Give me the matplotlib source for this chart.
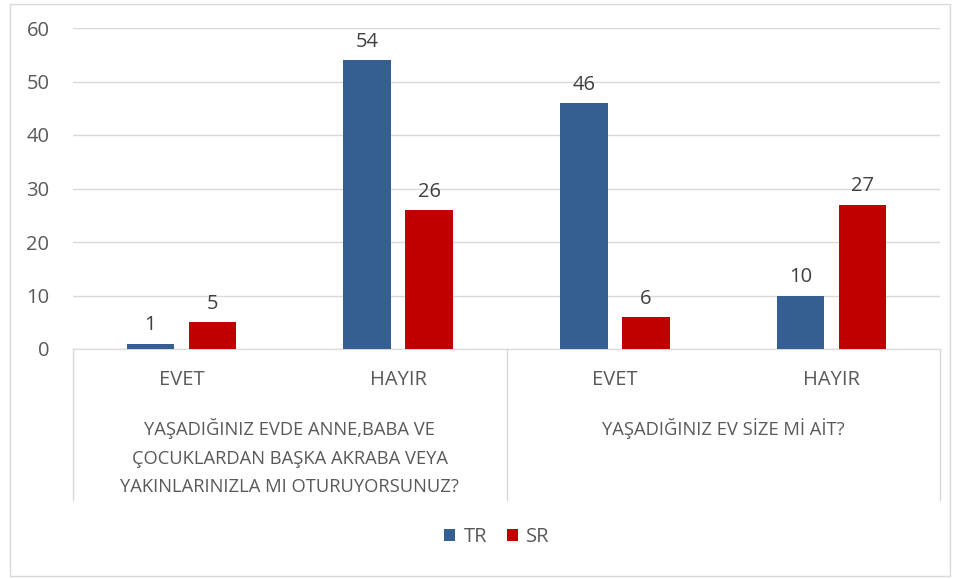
import matplotlib.pyplot as plt
import matplotlib.transforms as mtransforms
from matplotlib.patches import Rectangle
import numpy as np

plt.rcParams['font.family'] = ['Open Sans', 'DejaVu Sans']

answers = ['EVET', 'HAYIR', 'EVET', 'HAYIR']
questions = ['YAŞADIĞINIZ EVDE ANNE,BABA VE\nÇOCUKLARDAN BAŞKA AKRABA VEYA\nYAKINLARINIZLA MI OTURUYORSUNUZ?',
             'YAŞADIĞINIZ EV SİZE Mİ AİT?']
tr_vals = [1, 54, 46, 10]
sr_vals = [5, 26, 6, 27]

c_tr = '#365f91'
c_sr = '#c00000'
txt = '#595959'
gridc = '#d9d9d9'
fs = 14.5

fig = plt.figure(figsize=(9.6, 5.79), dpi=100)
ax = fig.add_axes([73/960, 1-349/579, (940-73)/960, (349-28)/579])

x = np.arange(len(answers))
w = 0.22
off = 0.143
b1 = ax.bar(x - off, tr_vals, w, color=c_tr, label='TR', zorder=3)
b2 = ax.bar(x + off, sr_vals, w, color=c_sr, label='SR', zorder=3)

for bars, vals in ((b1, tr_vals), (b2, sr_vals)):
    for r, v in zip(bars, vals):
        ax.annotate(str(v), (r.get_x() + r.get_width()/2, v), xytext=(0, 6),
                    textcoords='offset points', ha='center', va='bottom',
                    fontsize=fs, color='#404040')

ax.set_xlim(-0.5, 3.5)
ax.set_ylim(0, 60)
ax.set_yticks(range(0, 61, 10))
ax.tick_params(axis='y', length=0, labelsize=fs, labelcolor=txt, pad=17)
ax.set_xticks([])
ax.grid(axis='y', color=gridc, linewidth=1, zorder=0)
for s in ['top', 'right', 'left']:
    ax.spines[s].set_visible(False)
ax.spines['bottom'].set_color(gridc)

# multi-level category axis
tr = mtransforms.blended_transform_factory(ax.transData, fig.transFigure)
y0 = 1 - 349/579
y1 = 1 - 500/579
for xv in [-0.5, 1.5, 3.5]:
    ax.plot([xv, xv], [y0, y1], transform=tr, color=gridc, lw=1, clip_on=False)
for i, a in enumerate(answers):
    ax.text(i, 1 - 380/579, a, transform=tr, ha='center', va='center',
            fontsize=fs, color=txt)
ax.text(0.5, 1 - 418/579, questions[0], transform=tr, ha='center', va='top',
        fontsize=13.2, color=txt, linespacing=1.75)
ax.text(2.5, 1 - 418/579, questions[1], transform=tr, ha='center', va='top',
        fontsize=13.2, color=txt)

fig.legend(handles=[b1, b2], loc='center', bbox_to_anchor=(497/960, 1 - 537/579),
           ncol=2, frameon=False, fontsize=fs, handlelength=0.55, handleheight=0.55,
           columnspacing=1.0, handletextpad=0.4, labelcolor=txt)

fig.patches.append(Rectangle((10/960, 3/579), 940/960, 572/579, transform=fig.transFigure,
                             fill=False, edgecolor=gridc, lw=1))

fig.savefig('out.png', dpi=100)
